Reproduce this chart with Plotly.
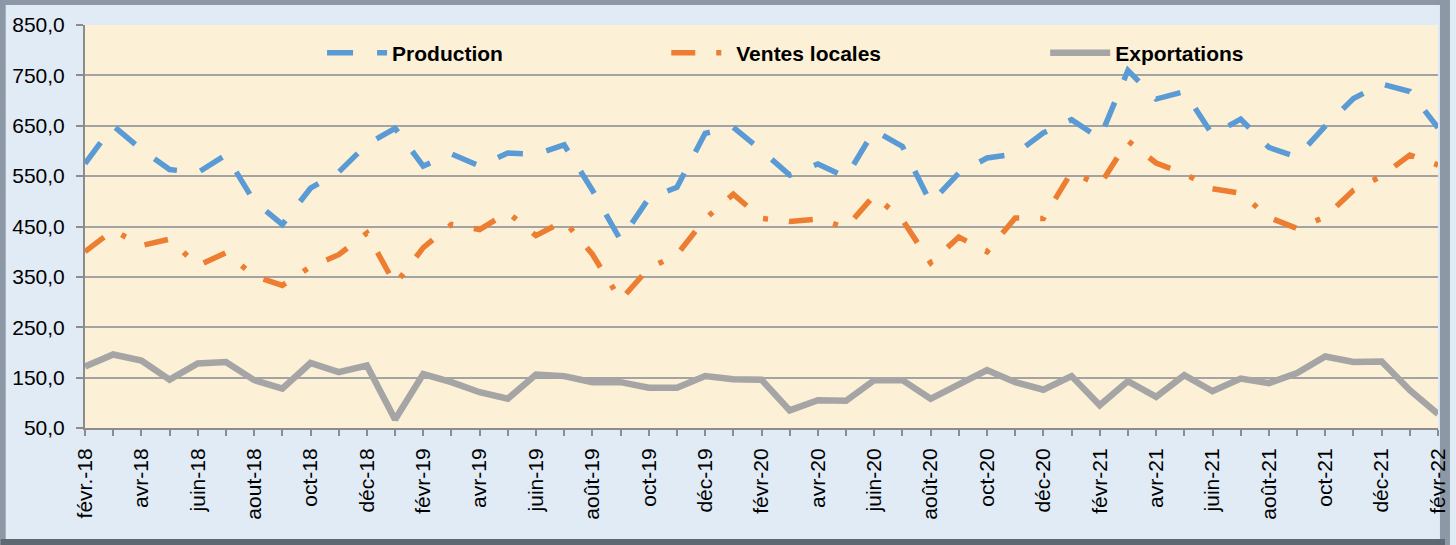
import plotly.graph_objects as go

months = ["févr.-18", "mars-18", "avr-18", "mai-18", "juin-18", "juil-18", "aout-18", "sept-18",
          "oct-18", "nov-18", "déc-18", "janv-19", "févr-19", "mars-19", "avr-19", "mai-19",
          "juin-19", "juil-19", "août-19", "sept-19", "oct-19", "nov-19", "déc-19", "janv-20",
          "févr-20", "mars-20", "avr-20", "mai-20", "juin-20", "juil-20", "août-20", "sept-20",
          "oct-20", "nov-20", "déc-20", "janv-21", "févr-21", "mars-21", "avr-21", "mai-21",
          "juin-21", "juil-21", "août-21", "sept-21", "oct-21", "nov-21", "déc-21", "janv-22",
          "févr-22"]

production = [575, 650, 603, 563, 557, 592, 500, 454, 526, 558, 613, 645, 570, 594, 570, 596,
              593, 612, 522, 423, 506, 528, 635, 647, 601, 552, 574, 548, 641, 609, 497, 556,
              586, 594, 636, 662, 625, 760, 703, 718, 632, 663, 607, 588, 649, 704, 733, 718,
              646]

ventes_locales = [400, 443, 412, 425, 372, 398, 352, 333, 370, 394, 437, 335, 408, 454, 444, 478,
                  432, 461, 395, 304, 367, 394, 465, 514, 466, 460, 465, 448, 512, 463, 378, 429,
                  400, 467, 466, 558, 532, 620, 576, 555, 525, 516, 468, 446, 469, 522, 550, 592,
                  572]

exportations = [172, 196, 184, 146, 178, 181, 145, 128, 179, 161, 174, 67, 157, 141, 121, 108,
                156, 153, 141, 141, 130, 130, 153, 147, 146, 85, 105, 104, 145, 145, 108, 137,
                165, 141, 126, 153, 95, 143, 112, 155, 123, 148, 139, 159, 192, 181, 182, 125,
                78]

series_names = ["Production", "Ventes locales", "Exportations"]

tick_text = [m if i % 2 == 0 else "" for i, m in enumerate(months)]

W, H = 1456, 545
L, R, T, B = 85, 7, 25, 117
PW, PH = W - L - R, H - T - B

FONT = "Arial, Liberation Sans, sans-serif"

fig = go.Figure()
fig.add_trace(go.Scatter(
    x=months, y=production, name=series_names[0], mode="lines",
    line=dict(color="#5B9BD5", width=5.5, dash="26px,24px"),
    legend="legend"))
fig.add_trace(go.Scatter(
    x=months, y=ventes_locales, name=series_names[1], mode="lines",
    line=dict(color="#ED7D31", width=5.5, dash="24px,21px,5px,21px"),
    legend="legend2"))
fig.add_trace(go.Scatter(
    x=months, y=exportations, name=series_names[2], mode="lines",
    line=dict(color="#A5A5A5", width=6.5),
    legend="legend3"))


def px_x(px):
    return (px - L) / PW


def px_y(py):
    return (H - B - py) / PH


leg_common = dict(orientation="h", yanchor="middle", xanchor="left", y=px_y(53),
                  bgcolor="rgba(0,0,0,0)", itemwidth=60,
                  font=dict(family=FONT, size=21, color="#000000", weight="bold"))

fig.update_layout(
    width=W, height=H,
    margin=dict(l=L, r=R, t=T, b=B, pad=0),
    paper_bgcolor="#E0EBF6",
    plot_bgcolor="#FCF0D7",
    separators=", ",
    showlegend=True,
    legend=dict(x=px_x(324), **leg_common),
    legend2=dict(x=px_x(671), **leg_common),
    legend3=dict(x=px_x(1053), **leg_common),
    xaxis=dict(
        type="category", range=[0, len(months) - 1],
        tickmode="array", tickvals=months, ticktext=tick_text,
        tickangle=-90, ticks="outside", ticklen=6, tickwidth=1.5, tickcolor="#8C8C8C",
        showline=True, linecolor="#8C8C8C", linewidth=2,
        showgrid=False, zeroline=False,
        tickfont=dict(family=FONT, size=21, color="#000000"),
        ticklabelstandoff=4,
    ),
    yaxis=dict(
        range=[50, 850], tick0=50, dtick=100, tickformat=".1f",
        ticks="outside", ticklen=7, tickwidth=1.5, tickcolor="#8C8C8C",
        showline=True, linecolor="#8C8C8C", linewidth=2,
        showgrid=True, gridcolor="#A3A3A3", gridwidth=1.5, zeroline=False,
        tickfont=dict(family=FONT, size=21, color="#000000"),
        ticklabelstandoff=7,
    ),
    shapes=[
        dict(type="rect", xref="paper", yref="paper",
             x0=px_x(0), x1=px_x(W), y0=px_y(H), y1=px_y(0),
             line=dict(color="#8C98A5", width=10), fillcolor="rgba(0,0,0,0)", layer="below"),
        dict(type="line", xref="paper", yref="paper",
             x0=px_x(0), x1=px_x(W), y0=px_y(H - 3), y1=px_y(H - 3),
             line=dict(color="#5E6873", width=6), layer="below"),
    ],
)

fig.write_html(
    "out.html",
    config={"displayModeBar": False},
    post_script="document.body.style.margin='0';document.body.style.overflow='hidden';",
)
